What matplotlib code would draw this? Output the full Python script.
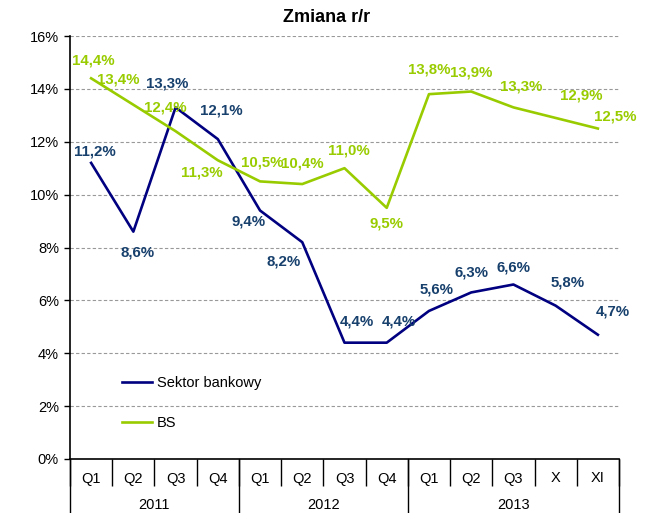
import numpy as np
import matplotlib
matplotlib.use('Agg')
import matplotlib.pyplot as plt
from matplotlib.ticker import FuncFormatter

plt.rcParams['font.family'] = ['Liberation Sans', 'DejaVu Sans']

# dane
quarters = ['Q1', 'Q2', 'Q3', 'Q4', 'Q1', 'Q2', 'Q3', 'Q4', 'Q1', 'Q2', 'Q3', 'X', 'XI']
years = ['2011', '2012', '2013']
year_sizes = [4, 4, 5]
sektor = [11.2, 8.6, 13.3, 12.1, 9.4, 8.2, 4.4, 4.4, 5.6, 6.3, 6.6, 5.8, 4.7]
bs = [14.4, 13.4, 12.4, 11.3, 10.5, 10.4, 11.0, 9.5, 13.8, 13.9, 13.3, 12.9, 12.5]

# przesunięcia etykiet (piksele)
sektor_off = [(4, 11), (4, -21), (-8, 24), (4, 29), (-11, -11), (-19, -19),
              (12, 21), (12, 21), (8, 21), (0, 20), (0, 17), (12, 23), (15, 23)]
bs_off = [(2, 18), (-15, 25), (-10, 24), (-16, -12), (2, 19), (0, 21),
          (4, 18), (0, -16), (0, 25), (0, 19), (8, 21), (26, 22), (17, 12)]

C_BLUE = '#000080'
C_BLUE_TXT = '#17406D'
C_GREEN = '#99CC00'

fig = plt.figure(figsize=(6.47, 5.13), dpi=100)
ax = fig.add_axes([70 / 647, 54 / 513, 549 / 647, 423 / 513])

x = np.arange(len(quarters)) + 0.5
ax.plot(x, sektor, color=C_BLUE, lw=1.9, label='Sektor bankowy')
ax.plot(x, bs, color=C_GREEN, lw=1.9, label='BS')

def fmt(v):
    return f'{v:.1f}%'.replace('.', ',')

for xi, v, off in zip(x, bs, bs_off):
    ax.annotate(fmt(v), (xi, v), xytext=off, textcoords='offset pixels',
                ha='center', va='center', fontsize=10.8, fontweight='bold',
                color=C_GREEN)
for xi, v, off in zip(x, sektor, sektor_off):
    ax.annotate(fmt(v), (xi, v), xytext=off, textcoords='offset pixels',
                ha='center', va='center', fontsize=10.8, fontweight='bold',
                color=C_BLUE_TXT)

ax.set_xlim(0, len(quarters))
ax.set_ylim(0, 16)
ax.set_yticks(np.arange(0, 17, 2))
ax.yaxis.set_major_formatter(FuncFormatter(lambda v, p: f'{v:.0f}%'))
ax.tick_params(axis='y', labelsize=10.5, length=4, width=1, pad=4, colors='black')
ax.yaxis.grid(True, color='#999999', linestyle=(0, (3, 2)), lw=0.8)
ax.set_axisbelow(True)

for s in ['top', 'right']:
    ax.spines[s].set_visible(False)
ax.spines['left'].set_linewidth(1.2)
ax.spines['bottom'].set_linewidth(1.2)

# oś X: kwartały + lata
ax.set_xticks(x)
ax.set_xticklabels(quarters, fontsize=10.5)
ax.tick_params(axis='x', length=0, pad=9)
ax.set_xticks(np.arange(0, len(quarters) + 1), minor=True)
ax.tick_params(axis='x', which='minor', length=19.5, width=1, color='black')

trans = ax.get_xaxis_transform()
bounds = np.concatenate([[0], np.cumsum(year_sizes)])
for b in bounds:
    ax.plot([b, b], [0, -60 / 423], transform=trans, color='black', lw=1,
            clip_on=False)
for y, a, b in zip(years, bounds[:-1], bounds[1:]):
    ax.text((a + b) / 2, -46 / 423, y, transform=trans, ha='center',
            va='center', fontsize=10.5)

fig.text(0.505, 0.966, 'Zmiana r/r', ha='center', va='center',
         fontsize=13, fontweight='bold')

ax.legend(loc='upper left', bbox_to_anchor=(0.07, 0.227), frameon=False,
          fontsize=10.5, handlelength=2.1, labelspacing=1.8, handletextpad=0.3)

fig.savefig('out.png', dpi=100)
